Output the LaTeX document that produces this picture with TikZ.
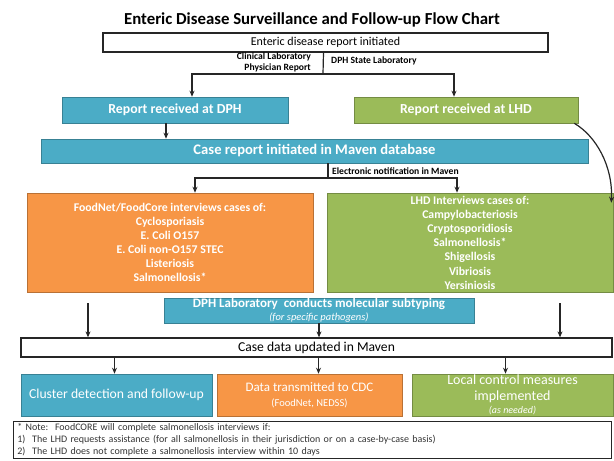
\documentclass[tikz,border=0pt]{standalone}
\usepackage{fontspec}
\setmainfont{Carlito}
\usetikzlibrary{arrows.meta}

\definecolor{dphblue}{HTML}{4BACC6}
\definecolor{lhdgreen}{HTML}{9BBB59}
\definecolor{fcorange}{HTML}{F79646}

\begin{document}
\begin{tikzpicture}[x=1pt, y=-1pt,
  link/.style={draw=black!85, line width=1.2pt},
  arr/.style={link, -{Stealth[length=6pt,width=5pt]}},
  whitebox/.style={draw=black!85, line width=1.3pt, fill=white, inner sep=0pt},
  colbox/.style={fill=#1, draw=#1!75!black, line width=0.6pt, text=white, inner sep=0pt, align=center},
  small/.style={font=\fontsize{9.6}{11}\selectfont\bfseries, inner sep=0pt}]

  \useasboundingbox (0,0) rectangle (614,461);

  \node (title) at (312,20) {\fontsize{16.8}{19}\selectfont\bfseries Enteric Disease Surveillance and Follow-up Flow Chart};

  % reports coming in
  \node[whitebox, minimum width=445pt, minimum height=19pt, font=\fontsize{12}{14}\selectfont] (start) at (325.5,42.5) {Enteric disease report initiated};
  \node[small, align=right, anchor=east] (clinlab) at (311,62.5) {Clinical Laboratory\\Physician Report};
  \node[small, anchor=west] (statelab) at (331,61) {DPH State Laboratory};

  \node[colbox=dphblue, minimum width=226pt, minimum height=26pt, font=\fontsize{13.8}{15}\selectfont\bfseries] (dph) at (175,110) {Report received at DPH};
  \node[colbox=lhdgreen, minimum width=224pt, minimum height=26pt, font=\fontsize{13.8}{15}\selectfont\bfseries] (lhd) at (466,110) {Report received at LHD};

  \coordinate (split1) at (323,74);
  \draw[link] ([xshift=-2pt]start.south) -- (split1);
  \draw[arr] (split1) -| ([xshift=17pt]dph.north);
  \draw[arr] (split1) -| ([xshift=-12pt]lhd.north);

  \node[colbox=dphblue, minimum width=547pt, minimum height=24pt, font=\fontsize{14.6}{16}\selectfont\bfseries] (caserep) at (314.5,151) {Case report initiated in Maven database};
  \draw[arr] ([xshift=-9pt]dph.south) -- ([xshift=-9pt]dph.south |- caserep.north);

  % interviews
  \node[colbox=fcorange, minimum width=286pt, minimum height=99pt, font=\fontsize{11.8}{14}\selectfont\bfseries] (foodnet) at (170,242.5)
    {FoodNet/FoodCore interviews cases of:\\Cyclosporiasis\\E. Coli O157\\E. Coli non-O157 STEC\\Listeriosis\\Salmonellosis*};
  \node[colbox=lhdgreen, minimum width=286pt, minimum height=99pt, font=\fontsize{11.8}{14.2}\selectfont\bfseries] (lhdint) at (470,242.5)
    {LHD Interviews cases of:\\Campylobacteriosis\\Cryptosporidiosis\\Salmonellosis*\\Shigellosis\\Vibriosis\\Yersiniosis};

  \coordinate (split2) at (328,178);
  \draw[link] ([xshift=13.5pt]caserep.south) -- (split2);
  \draw[arr] (split2) -| ([xshift=25pt]foodnet.north);
  \draw[arr] (split2) -| ([xshift=-13pt]lhdint.north);
  \node[small, anchor=west] (enotify) at (332,171) {Electronic notification in Maven};

  \draw[arr] ([xshift=-4pt]lhd.south east) .. controls (596,136) and (613,166) .. ([shift={(-2pt,-10pt)}]lhdint.north east);

  % subtyping and update
  \node[colbox=dphblue, minimum width=310pt, minimum height=25pt, font=\fontsize{13}{13}\selectfont] (dphlab) at (319,310.5)
    {{\bfseries DPH Laboratory\ \ conducts molecular subtyping}\\{\fontsize{10.5}{11}\selectfont\itshape (for specific pathogens)}};

  \node[whitebox, minimum width=591pt, minimum height=19pt, font=\fontsize{13.6}{15}\selectfont] (casedata) at (316.5,347.5) {Case data updated in Maven};

  \draw[arr] ([shift={(-82pt,-11pt)}]foodnet.south) -- ([xshift=-82pt]foodnet.south |- casedata.north);
  \draw[arr] ([shift={(90pt,-11pt)}]lhdint.south) -- ([xshift=90pt]lhdint.south |- casedata.north);
  \draw[arr] (dphlab.south) -- (dphlab.south |- casedata.north);

  % outcomes
  \node[colbox=dphblue, minimum width=191pt, minimum height=42pt, font=\fontsize{13.7}{15}\selectfont] (cluster) at (116.5,395) {Cluster detection and follow-up};
  \node[colbox=fcorange, minimum width=185pt, minimum height=42pt, font=\fontsize{13}{15}\selectfont] (cdc) at (309.5,395)
    {Data transmitted to CDC\\{\fontsize{10.5}{11}\selectfont (FoodNet, NEDSS)}};
  \node[colbox=lhdgreen, minimum width=201pt, minimum height=42pt, font=\fontsize{14}{15.5}\selectfont] (local) at (512.5,395)
    {Local control measures\\implemented\\[-2pt]{\fontsize{10}{11}\selectfont\itshape (as needed)}};

  \draw[arr] ([xshift=-2pt]cluster.north |- casedata.south) -- ([xshift=-2pt]cluster.north);
  \draw[arr] ([xshift=9pt]cdc.north |- casedata.south) -- ([xshift=9pt]cdc.north);
  \draw[arr] ([xshift=-7pt]local.north |- casedata.south) -- ([xshift=-7pt]local.north);

  % footnote
  \node[draw=black!85, line width=0.8pt, anchor=north west, text width=590pt, inner xsep=4pt, inner ysep=2pt,
        align=left, text=black!80, font=\fontsize{10}{12}\selectfont] (note) at (13,421)
    {* Note:\ \ FoodCORE will complete salmonellosis interviews if:\\
     1)\ \ The LHD requests assistance (for all salmonellosis in their jurisdiction or on a case-by-case basis)\\
     2)\ \ The LHD does not complete a salmonellosis interview within 10 days};

\end{tikzpicture}
\end{document}
